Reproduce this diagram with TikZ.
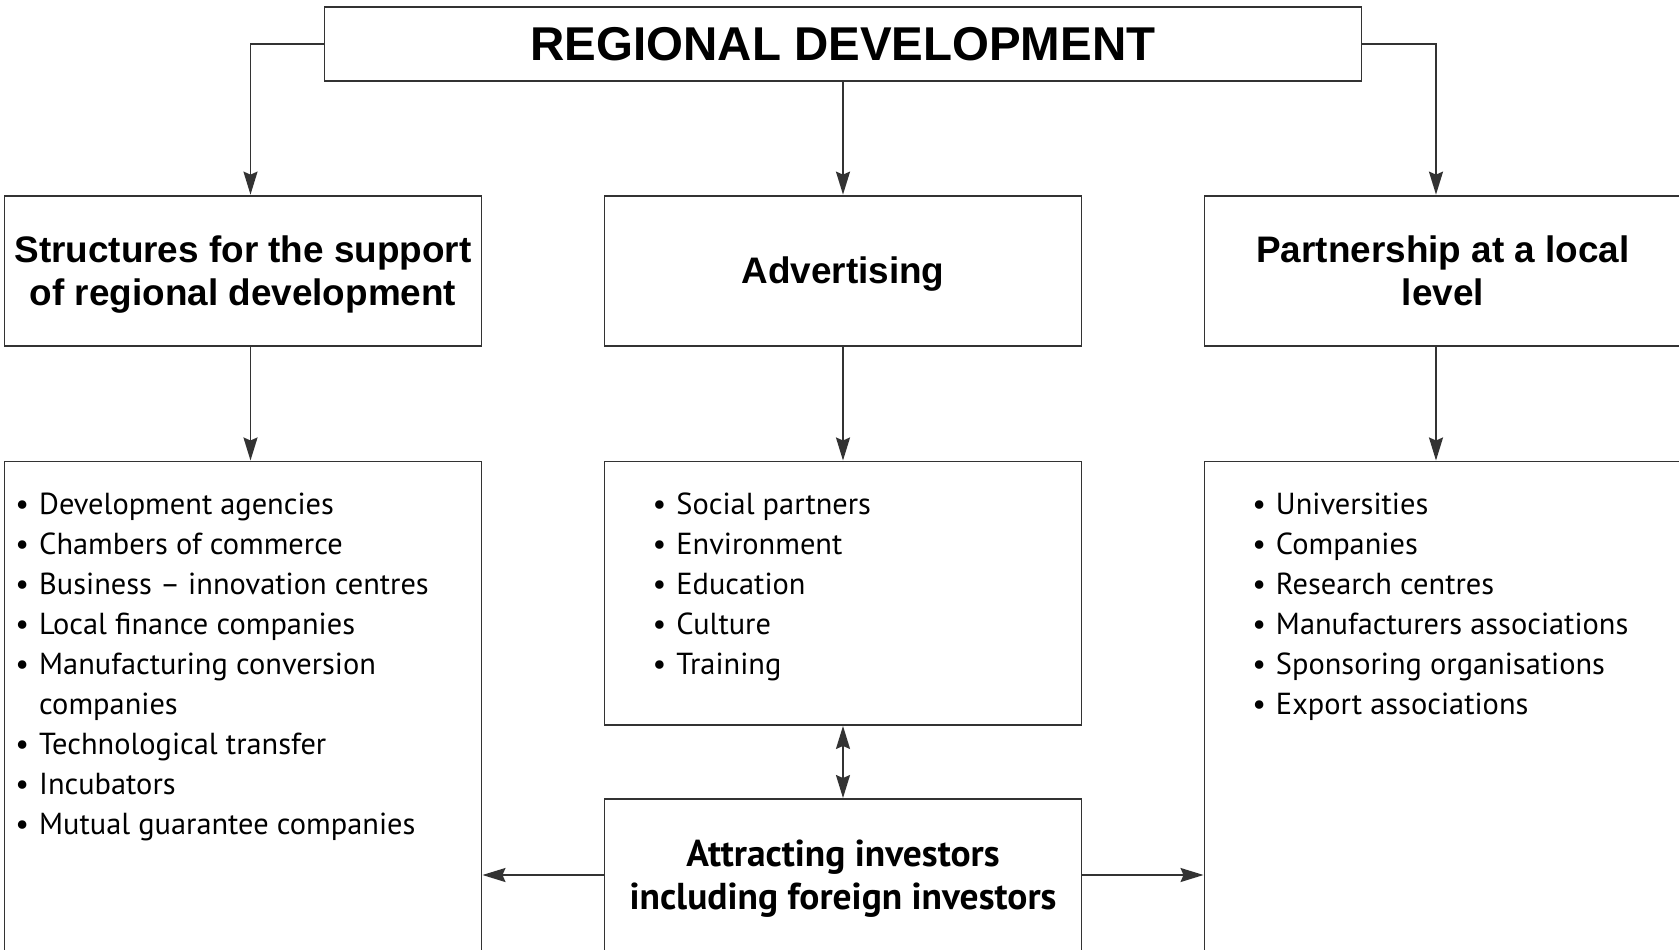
\documentclass[tikz,border=0pt]{standalone}
\usepackage{fontspec}
\setmainfont{PT Sans}
\newfontfamily\headfont{Liberation Sans}
\usetikzlibrary{arrows.meta,positioning}
\newcommand\bul{\llap{\textbullet\hspace{0.1cm}}}

\begin{document}
\begin{tikzpicture}[>={Stealth[length=2.3mm,width=1.4mm,inset=0.3mm]},
    line/.style={draw=black!80, line width=0.55pt},
    box/.style={line, rectangle, minimum width=4.77cm, minimum height=1.5cm, inner sep=0pt},
    frame/.style={line, rectangle, minimum width=4.77cm, inner sep=0pt, anchor=north},
    head/.style={inner sep=0pt, align=center, font=\headfont\bfseries\fontsize{10.5}{12.2}\selectfont},
    item/.style={anchor=base west, inner sep=0pt, font=\fontsize{8.65}{10}\selectfont}]
    \useasboundingbox (0,0) rectangle (16.79,-9.49);
    \clip (0,0) rectangle (16.79,-9.49);
    %Top
    \node[box, minimum width=10.37cm, minimum height=0.74cm, font=\headfont\bfseries\fontsize{13.5}{16}\selectfont] (title) at (8.43,-0.437) {REGIONAL DEVELOPMENT};
    %Headings
    \node[box] (sup) at (2.43,-2.706) {};
    \node[box] (adv) at (8.43,-2.706) {};
    \node[box] (part) at (14.43,-2.706) {};
    \node[head] (suptxt) at ([yshift=-0.037cm]sup.center) {Structures for the support\\of regional development};
    \node[head] (advtxt) at ([yshift=-0.03cm]adv.center) {Advertising};
    \node[head] (parttxt) at (part.center) {Partnership at a local\\level};
    %Lists
    \node[frame, minimum height=5.3cm] (supl) at (2.43,-4.605) {};
    \node[frame, minimum height=2.635cm] (advl) at (8.43,-4.605) {};
    \node[frame, minimum height=5.3cm] (partl) at (14.43,-4.605) {};
    \foreach \txt [count=\i] in {\bul Development agencies, \bul Chambers of commerce, \bul Business -- innovation centres, \bul Local finance companies, \bul Manufacturing conversion, companies, \bul Technological transfer, \bul Incubators, \bul Mutual guarantee companies}
        \node[item] (s\i) at (0.385,{-5.14-0.4*(\i-1)}) {\txt};
    \foreach \txt [count=\i] in {Social partners, Environment, Education, Culture, Training}
        \node[item] (a\i) at (6.757,{-5.14-0.4*(\i-1)}) {\bul\txt};
    \foreach \txt [count=\i] in {Universities, Companies, Research centres, Manufacturers associations, Sponsoring organisations, Export associations}
        \node[item] (p\i) at (12.753,{-5.14-0.4*(\i-1)}) {\bul\txt};
    %Investors
    \node[box, minimum height=1.52cm] (inv) at (8.43,-8.75) {};
    \node[head, font=\bfseries\fontsize{10.65}{12.2}\selectfont] (invtxt) at ([yshift=-0.037cm]inv.center) {Attracting investors\\including foreign investors};
    %Arrows
    \draw[line, ->] (title.west) -| ([xshift=0.075cm]sup.north);
    \draw[line, ->] (title.south) -- (adv.north);
    \draw[line, ->] (title.east) -| ([xshift=-0.07cm]part.north);
    \draw[line, ->] ([xshift=0.075cm]sup.south) -- ([xshift=0.075cm]supl.north);
    \draw[line, ->] (adv.south) -- (advl.north);
    \draw[line, ->] ([xshift=-0.07cm]part.south) -- ([xshift=-0.07cm]partl.north);
    \draw[line, <->] (advl.south) -- (inv.north);
    \draw[line, ->] (inv.west) -- (inv.west -| supl.east);
    \draw[line, ->] (inv.east) -- (inv.east -| partl.west);
\end{tikzpicture}
\end{document}
